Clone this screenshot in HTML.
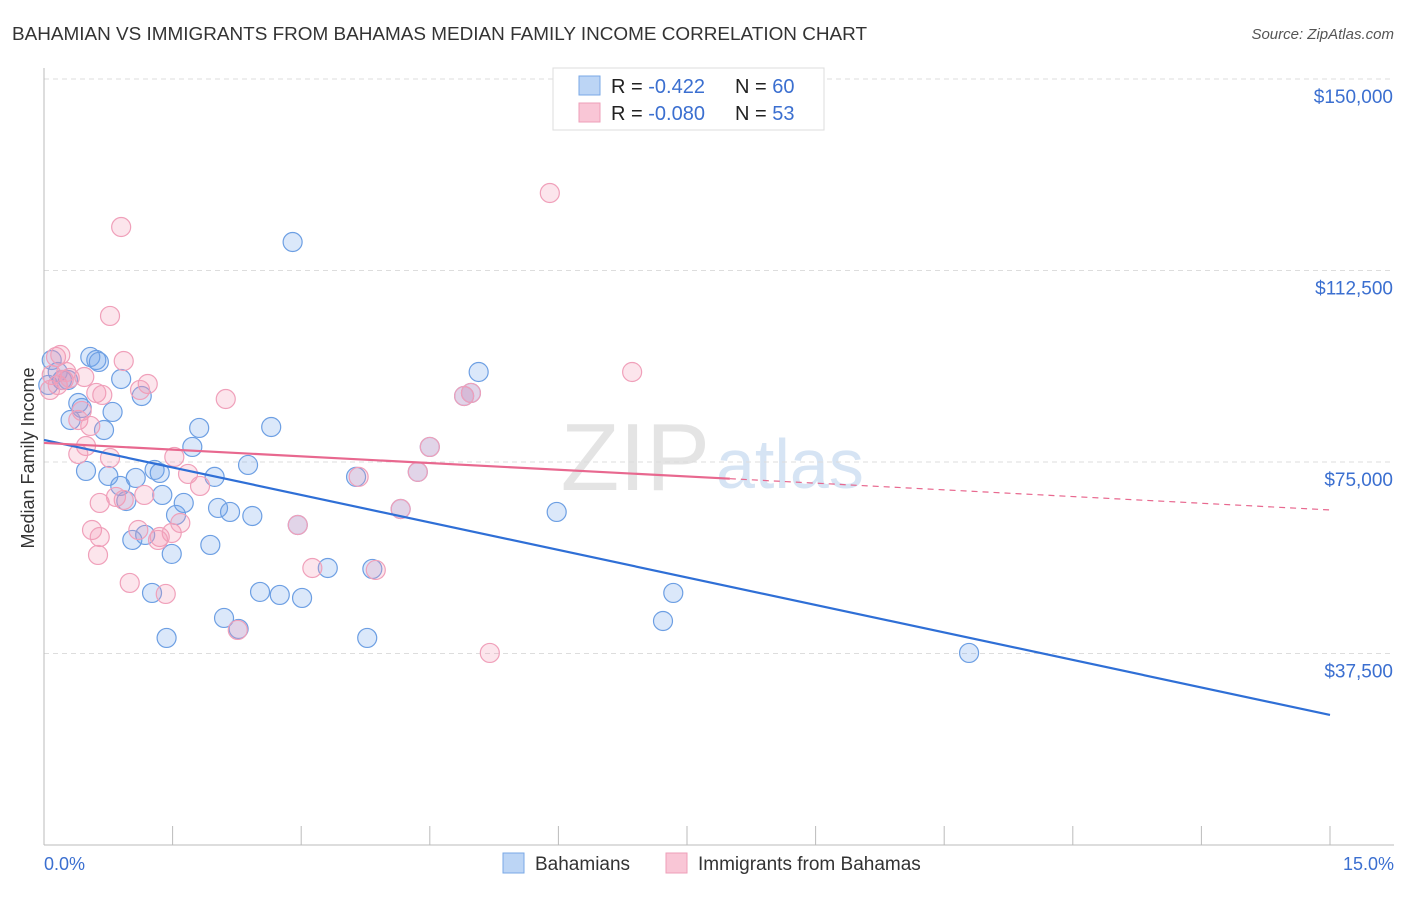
<!DOCTYPE html>
<html><head><meta charset="utf-8"><style>
body{margin:0;background:#fff;font-family:"Liberation Sans",sans-serif;}
svg text{font-family:"Liberation Sans",sans-serif;}
</style></head><body>
<svg width="1406" height="892" id="c">
<text x="12" y="40" font-size="18" fill="#333" textLength="855" lengthAdjust="spacingAndGlyphs">BAHAMIAN VS IMMIGRANTS FROM BAHAMAS MEDIAN FAMILY INCOME CORRELATION CHART</text>
<text x="1394" y="39" font-size="15" fill="#555" text-anchor="end" font-style="italic">Source: ZipAtlas.com</text>
<text x="0" y="0" transform="translate(34,458) rotate(-90)" font-size="18" fill="#333" text-anchor="middle">Median Family Income</text>
<text x="710" y="490" font-size="96" fill="#e4e4e4" text-anchor="end" font-family="Liberation Serif">ZIP</text>
<text x="716" y="488" font-size="70" fill="#d6e4f4">atlas</text>
<g id="grid"></g><g id="pts"></g><g id="lines"></g>
<g>
<rect x="553" y="68" width="271" height="62" fill="#fff" stroke="#ddd"/>
<rect x="579" y="76" width="21" height="19" fill="#bcd5f5" stroke="#7aa8e6"/>
<rect x="579" y="103" width="21" height="19" fill="#f9c6d6" stroke="#ee9fb8"/>
<text x="611" y="93" font-size="20" fill="#222">R = <tspan fill="#3b6fd0"> -0.422</tspan><tspan x="735">N = </tspan><tspan fill="#3b6fd0">60</tspan></text>
<text x="611" y="120" font-size="20" fill="#222">R = <tspan fill="#3b6fd0">-0.080</tspan><tspan x="735">N = </tspan><tspan fill="#3b6fd0"> 53</tspan></text>
</g>
<g>
<rect x="503" y="853" width="21" height="20" fill="#bcd5f5" stroke="#7aa8e6"/>
<text x="535" y="870" font-size="19" fill="#333">Bahamians</text>
<rect x="666" y="853" width="21" height="20" fill="#f9c6d6" stroke="#ee9fb8"/>
<text x="698" y="870" font-size="19" fill="#333">Immigrants from Bahamas</text>
</g>
<text x="44" y="870" font-size="18" fill="#3b6fd0">0.0%</text>
<text x="1394" y="870" font-size="18" fill="#3b6fd0" text-anchor="end">15.0%</text>
</svg>
<script>
const yTicks=[150000,112500,75000,37500];
const yTickLabels=["$150,000","$112,500","$75,000","$37,500"];
const blueX=[0.09,0.16,0.05,0.21,0.28,0.54,0.61,0.64,0.90,1.14,0.80,0.40,0.44,0.31,0.70,0.49,0.75,0.89,0.96,1.07,1.38,1.29,1.35,1.54,1.63,1.73,1.81,1.99,2.03,2.17,2.38,2.43,2.65,2.90,5.07,1.94,1.03,1.18,1.49,1.26,1.43,2.10,2.52,2.75,3.01,3.31,3.83,3.77,2.27,2.96,4.16,5.98,7.34,7.22,10.79,4.90,4.98,4.50,4.36,3.64];
const blueY=[94980,92630,90090,91060,91060,95570,94980,94590,91260,87930,84800,86560,85580,83230,81270,73250,72270,70310,67370,71880,68550,73450,72860,64630,66980,77950,81670,72080,66000,65220,74420,64430,81860,118080,92630,58760,59740,60720,57000,49360,40550,44460,49560,48970,48380,54250,54060,40550,42310,62670,65800,65220,49360,43870,37610,87930,88520,77950,73060,72080];
const pinkX=[0.14,0.19,0.09,0.16,0.23,0.07,0.30,0.47,0.44,0.40,0.61,0.49,0.40,0.54,0.68,0.77,0.77,0.90,0.93,1.21,1.12,2.12,1.52,1.68,1.17,0.65,0.56,0.65,0.63,1.00,1.10,1.42,1.35,1.49,1.33,1.59,0.84,0.93,1.82,3.13,3.87,2.96,2.26,3.67,4.16,4.36,4.50,4.90,4.98,5.20,5.90,6.86,0.26];
const pinkY=[95570,95960,92050,90090,91060,89110,91460,91650,85000,83230,88520,78140,76570,82060,88130,75790,103600,121020,94780,90280,89110,87340,75990,72660,68550,66980,61690,60320,56800,51320,61690,49160,60320,61100,59740,63060,68160,67570,70310,54250,53860,62670,42110,72080,65800,73060,77950,87930,88520,37610,127680,92630,92630];
const blueTrend=[79320,25470];
const pinkTrend=[78730,65610];
const pinkSolidEnd=8.0;
const NS="http://www.w3.org/2000/svg";
const X=v=>44+v/15*1286, Y=v=>845-v/150000*766;
function mk(t,a,p){const e=document.createElementNS(NS,t);for(const k in a)e.setAttribute(k,a[k]);p.appendChild(e);return e;}
const g=document.getElementById('grid');
yTicks.forEach((t,i)=>{
 const l=mk('line',{x1:44,x2:1394,y1:Y(t),y2:Y(t),stroke:'#ddd','stroke-dasharray':'5,4'},g);
 
 
 const tx=mk('text',{x:1393,y:Y(t)+24,'font-size':19,fill:'#3b6fd0','text-anchor':'end'},g);
 tx.textContent=yTickLabels[i];
 
 
});
const ax=mk('line',{x1:44,x2:44,y1:68,y2:845,stroke:'#bbb'},g);


const bx=mk('line',{x1:44,x2:1394,y1:845,y2:845,stroke:'#bbb'},g);


for(let i=0;i<=10;i++){const t=mk('line',{x1:X(i*1.5),x2:X(i*1.5),y1:826,y2:845,stroke:'#bbb'},g);
 
 }
const p=document.getElementById('pts');
function dots(xs,ys,fill,stroke,name){xs.forEach((x,i)=>{const c=mk('circle',{cx:X(x),cy:Y(ys[i]),r:9.5,fill:fill,stroke:stroke,'stroke-width':1.2},p);
 
 });}
dots(blueX,blueY,'rgba(110,165,235,0.25)','#6d9fe3','bahamian-point');
dots(pinkX,pinkY,'rgba(244,150,180,0.25)','#f0a0ba','immigrant-point');
const L=document.getElementById('lines');
const b=mk('line',{x1:X(0),y1:Y(blueTrend[0]),x2:X(15),y2:Y(blueTrend[1]),stroke:'#2f6fd6','stroke-width':2.2},L);


const pv=x=>pinkTrend[0]+(pinkTrend[1]-pinkTrend[0])*x/15;
const ps=mk('line',{x1:X(0),y1:Y(pv(0)),x2:X(pinkSolidEnd),y2:Y(pv(pinkSolidEnd)),stroke:'#e8688f','stroke-width':2.2},L);


const pd=mk('line',{x1:X(pinkSolidEnd),y1:Y(pv(pinkSolidEnd)),x2:X(15),y2:Y(pv(15)),stroke:'#e8688f','stroke-width':1.2,'stroke-dasharray':'6,5'},L);


</script>
</body></html>
